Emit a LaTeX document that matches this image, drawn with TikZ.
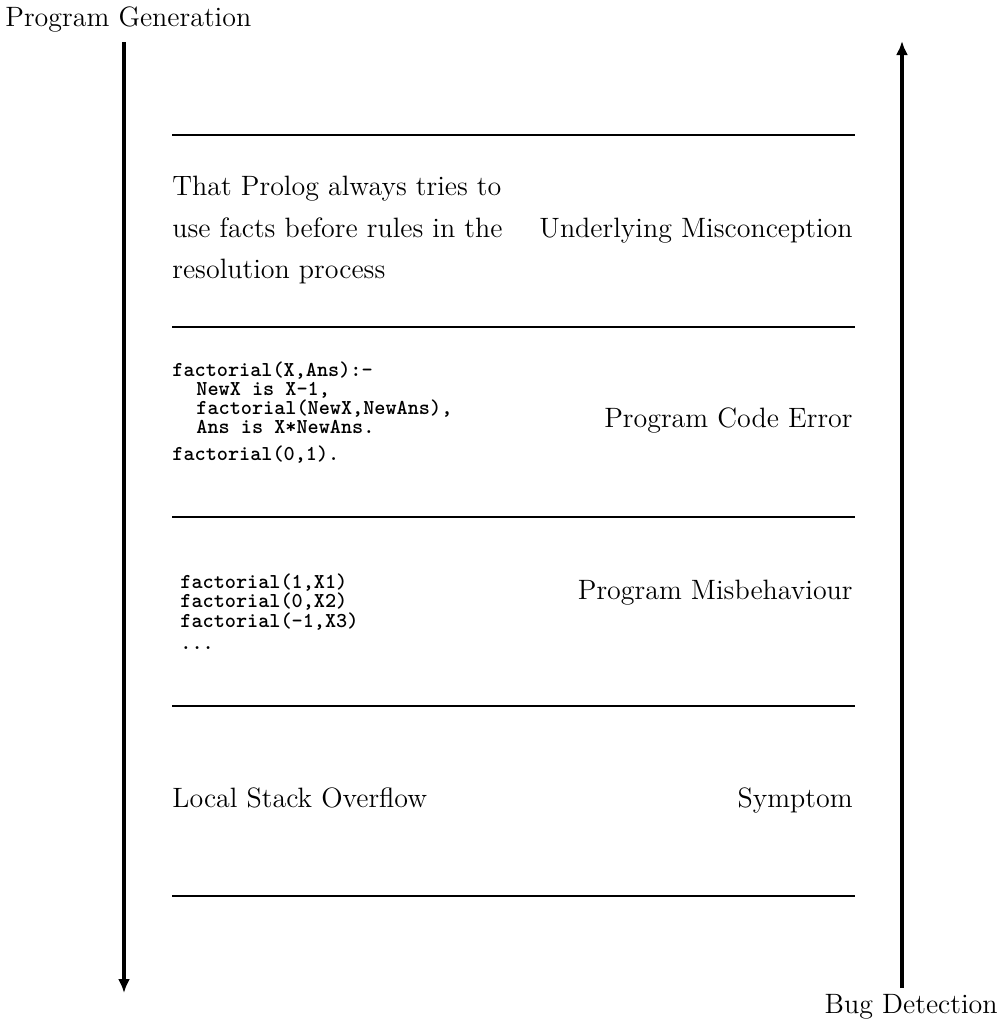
\documentclass[tikz,border=0pt]{standalone}
\usetikzlibrary{arrows.meta}
\begin{document}
\begin{tikzpicture}[x=0.5pt,y=-0.5pt,
  lbl/.style={font=\fontsize{14}{20.5}\selectfont, inner sep=0pt},
  codeline/.style={font=\fontsize{10.6}{10}\selectfont\ttfamily\bfseries, inner sep=0pt, anchor=base west},
  rulerline/.style={line width=0.8pt},
  heavyseg/.style={line width=1.3pt},
  axisline/.style={line width=1.6pt, -{Latex[length=7pt,width=6pt]}}]
\useasboundingbox (0,0) rectangle (1001,1025);

% axes
\node[lbl, anchor=base west] (gen) at (5,26) {Program Generation};
\node[lbl, anchor=base east] (det) at (998,1013) {Bug Detection};
\coordinate (ltop) at (124,42);
\coordinate (lbot) at (124,993);
\coordinate (rbot) at (902,988);
\coordinate (rtop) at (902,41);
\draw[axisline] (ltop) -- (lbot);
\draw[axisline] (rbot) -- (rtop);

% horizontal rules
\foreach \yy/\nm in {135/a,327/b,517/c,706/d,896/e}{
  \coordinate (r\nm l) at (172,\yy);
  \coordinate (r\nm r) at (855,\yy);
  \draw[rulerline] (r\nm l) -- (r\nm r);
}
\coordinate (ha1) at (383,135); \coordinate (ha2) at (610,135);
\coordinate (hc1) at (172,517); \coordinate (hc2) at (652,517);
\coordinate (he1) at (172,896); \coordinate (he2) at (668,896);
\draw[heavyseg] (ha1) -- (ha2);
\draw[heavyseg] (hc1) -- (hc2);
\draw[heavyseg] (he1) -- (he2);

% level 1
\node[lbl, anchor=base west] (m1) at (172,195) {That Prolog always tries to};
\node[lbl, anchor=base west] (m2) at (172,237) {use facts before rules in the};
\node[lbl, anchor=base west] (m3) at (172,278) {resolution process};
\node[lbl, anchor=base east] (um) at (853,237) {Underlying Misconception};

% level 2
\node[codeline] (c1) at (172,376) {factorial(X,Ans):-};
\node[codeline] (c2) at (196,395) {NewX is X-1,};
\node[codeline] (c3) at (196,414) {factorial(NewX,NewAns),};
\node[codeline] (c4) at (196,433) {Ans is X*NewAns.};
\node[codeline] (c5) at (172,460) {factorial(0,1).};
\node[lbl, anchor=base east] (pce) at (853,427) {Program Code Error};

% level 3
\node[codeline] (b1) at (180,588) {factorial(1,X1)};
\node[codeline] (b2) at (180,607) {factorial(0,X2)};
\node[codeline] (b3) at (180,627) {factorial(-1,X3)};
\node[codeline] (b4) at (180,649) {...};
\node[lbl, anchor=base east] (pm) at (853,599) {Program Misbehaviour};

% level 4
\node[lbl, anchor=base west] (lso) at (172,807) {Local Stack Overflow};
\node[lbl, anchor=base east] (sym) at (853,807) {Symptom};
\end{tikzpicture}
\end{document}
